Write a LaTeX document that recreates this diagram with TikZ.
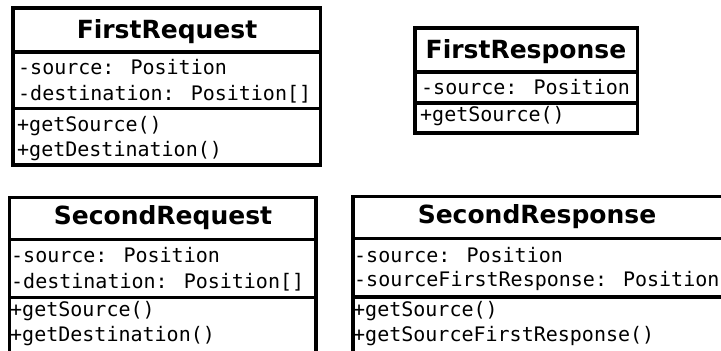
\documentclass[tikz,border=0pt]{standalone}
\usepackage{fontspec}
\setmainfont{DejaVu Sans}
\newfontfamily\monof{DejaVu Sans Mono}
\begin{document}
\begin{tikzpicture}[x=1pt,y=-1pt,
  box/.style={line width=3.2pt},
  classtitle/.style={font=\fontsize{25}{29}\selectfont\bfseries, anchor=base, inner sep=0pt},
  member/.style={font=\monof\fontsize{20}{24}\selectfont, anchor=base west, inner sep=0pt}]
\useasboundingbox (0,0) rectangle (721,351);
\clip (0,0) rectangle (721,351);
% FirstRequest
\draw[box] (13,8) rectangle (320.5,165);
\draw[box] (13,52) -- (320.5,52);
\draw[box] (13,108.5) -- (320.5,108.5);
\node[classtitle] (t1) at (167,38) {FirstRequest};
\node[member] (a1a) at (18,74) {-source: Position};
\node[member] (a1b) at (18,100) {-destination: Position[]};
\node[member] (m1a) at (17,131.7) {+getSource()};
\node[member] (m1b) at (17,156.7) {+getDestination()};
% FirstResponse
\draw[box] (415,28) rectangle (637.5,133);
\draw[box] (415,72) -- (637.5,72);
\draw[box] (415,103) -- (637.5,103);
\node[classtitle] (t2) at (526,58) {FirstResponse};
\node[member] (a2a) at (421,94) {-source: Position};
\node[member] (m2a) at (420,121.7) {+getSource()};
% SecondRequest
\draw[box] (9.5,197.5) rectangle (316,356);
\draw[box] (9.5,239.5) -- (316,239.5);
\draw[box] (9.5,297.5) -- (316,297.5);
\node[classtitle] (t3) at (163,224.6) {SecondRequest};
\node[member] (a3a) at (11,262.3) {-source: Position};
\node[member] (a3b) at (11,288.3) {-destination: Position[]};
\node[member] (m3a) at (10,316.7) {+getSource()};
\node[member] (m3b) at (10,341.7) {+getDestination()};
% SecondResponse
\draw[box] (353,196.5) rectangle (726,356);
\draw[box] (353,238.5) -- (726,238.5);
\draw[box] (353,297) -- (726,297);
\node[classtitle] (t4) at (537,223.6) {SecondResponse};
\node[member] (a4a) at (354,262.3) {-source: Position};
\node[member] (a4b) at (354,286.7) {-sourceFirstResponse: Position};
\node[member] (m4a) at (353,316.7) {+getSource()};
\node[member] (m4b) at (353,341.7) {+getSourceFirstResponse()};
\end{tikzpicture}
\end{document}
